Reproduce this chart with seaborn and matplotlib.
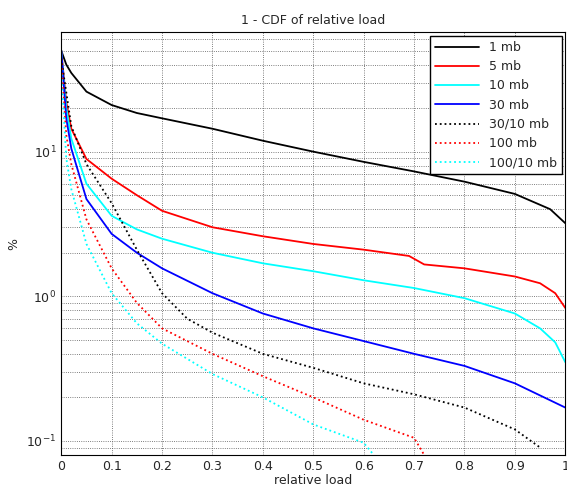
import numpy as np
import pandas as pd
import matplotlib
matplotlib.use("Agg")
import matplotlib.pyplot as plt
import seaborn as sns

# values (x = relative load, y = %)
x_1mb = [0, 0.01, 0.02, 0.05, 0.1, 0.15, 0.2, 0.3, 0.4, 0.5, 0.6, 0.7, 0.8, 0.9, 0.97, 1.0]
y_1mb = [50, 40, 35, 26, 21, 18.5, 17, 14.4, 11.9, 10, 8.5, 7.3, 6.2, 5.1, 4.0, 3.2]
x_5mb = [0, 0.01, 0.02, 0.05, 0.1, 0.15, 0.2, 0.3, 0.4, 0.5, 0.6, 0.69, 0.72, 0.8, 0.9, 0.95, 0.98, 1.0]
y_5mb = [50, 22, 14.4, 8.9, 6.5, 5.0, 3.9, 3.0, 2.6, 2.3, 2.1, 1.9, 1.66, 1.56, 1.37, 1.23, 1.05, 0.83]
x_10mb = [0, 0.01, 0.02, 0.05, 0.1, 0.15, 0.2, 0.3, 0.4, 0.5, 0.6, 0.7, 0.8, 0.9, 0.95, 0.98, 1.0]
y_10mb = [50, 20, 12.3, 6.0, 3.6, 2.9, 2.5, 2.0, 1.69, 1.49, 1.29, 1.14, 0.97, 0.76, 0.6, 0.48, 0.35]
x_30mb = [0, 0.01, 0.02, 0.05, 0.1, 0.15, 0.2, 0.3, 0.4, 0.5, 0.6, 0.7, 0.8, 0.9, 1.0]
y_30mb = [50, 17, 10.5, 4.7, 2.7, 2.0, 1.56, 1.05, 0.76, 0.6, 0.49, 0.40, 0.33, 0.25, 0.17]
x_30_10 = [0, 0.02, 0.05, 0.1, 0.15, 0.2, 0.25, 0.3, 0.4, 0.5, 0.6, 0.7, 0.8, 0.9, 0.95]
y_30_10 = [44, 15, 8.2, 4.4, 2.1, 1.05, 0.7, 0.56, 0.40, 0.32, 0.25, 0.21, 0.17, 0.12, 0.09]
x_100mb = [0, 0.01, 0.02, 0.05, 0.1, 0.15, 0.2, 0.3, 0.4, 0.5, 0.6, 0.7, 0.72]
y_100mb = [44, 13, 8.2, 3.4, 1.56, 0.9, 0.6, 0.40, 0.28, 0.2, 0.14, 0.105, 0.08]
x_100_10 = [0, 0.01, 0.02, 0.05, 0.1, 0.15, 0.2, 0.3, 0.4, 0.5, 0.6, 0.62]
y_100_10 = [37, 9, 5.5, 2.3, 1.05, 0.65, 0.47, 0.29, 0.2, 0.13, 0.097, 0.08]

series = [
    ("1 mb", x_1mb, y_1mb, "black", "-"),
    ("5 mb", x_5mb, y_5mb, "red", "-"),
    ("10 mb", x_10mb, y_10mb, "cyan", "-"),
    ("30 mb", x_30mb, y_30mb, "blue", "-"),
    ("30/10 mb", x_30_10, y_30_10, "black", ":"),
    ("100 mb", x_100mb, y_100mb, "red", ":"),
    ("100/10 mb", x_100_10, y_100_10, "cyan", ":"),
]

sns.set_style("white")
fig = plt.figure(figsize=(5.67, 4.95), dpi=100)
ax = fig.add_axes([0.108, 0.081, 0.889, 0.854])

for name, xs, ys, color, ls in series:
    df = pd.DataFrame({"x": xs, "y": ys})
    sns.lineplot(data=df, x="x", y="y", ax=ax, color=color, linestyle=ls,
                 linewidth=1.3, label=name, estimator=None)

ax.set_yscale("log")
ax.set_xlim(0, 1)
ax.set_ylim(0.08, 67)
ax.set_xticks(np.arange(0, 1.01, 0.1))
ax.set_xticklabels(["0"] + [f"{v:.1f}" for v in np.arange(0.1, 0.95, 0.1)] + ["1"])
ax.grid(True, which="major", linestyle=":", color="#555555", linewidth=0.6)
ax.grid(True, which="minor", axis="y", linestyle=":", color="#555555", linewidth=0.6)
ax.tick_params(labelsize=9, direction="in")
for s in ax.spines.values():
    s.set_color("black")
ax.set_xlabel("relative load", fontsize=9, labelpad=1)
ax.set_ylabel("%", fontsize=9)
ax.set_title("1 - CDF of relative load", fontsize=9)
leg = ax.legend(loc="upper right", fontsize=9, fancybox=False, framealpha=1,
                edgecolor="black", handlelength=3.5, borderaxespad=0.3)
fig.savefig("out.png", dpi=100)
